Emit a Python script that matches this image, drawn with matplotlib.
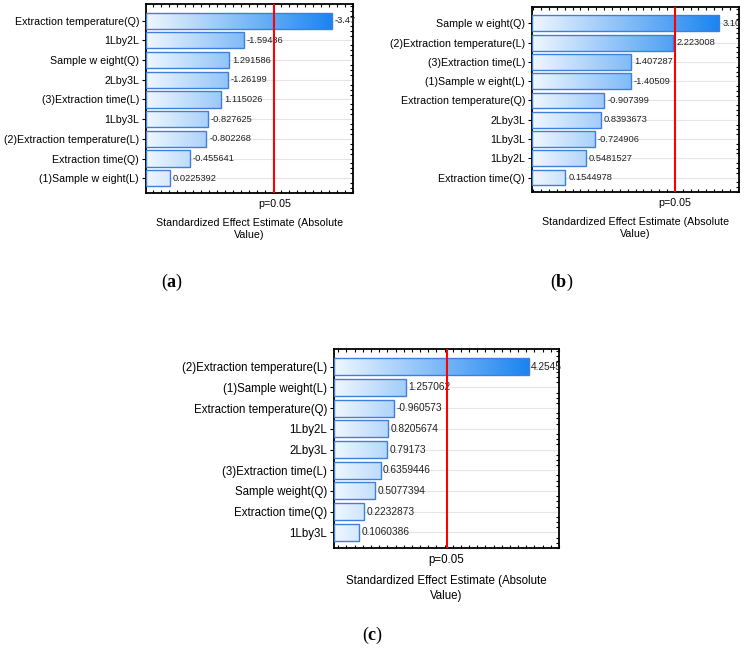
import matplotlib
matplotlib.use("Agg")
import matplotlib.pyplot as plt
import numpy as np
from matplotlib.colors import LinearSegmentedColormap
from matplotlib.patches import Rectangle
from matplotlib.ticker import MultipleLocator
from matplotlib.transforms import Bbox

plt.rcParams["font.family"] = ["Liberation Sans", "DejaVu Sans"]
plt.rcParams["mathtext.fontset"] = "custom"
plt.rcParams["mathtext.rm"] = "Liberation Serif"
plt.rcParams["mathtext.bf"] = "Liberation Serif:bold"

W, H = 748, 655

# effects, top to bottom, as printed next to each bar
terms_a = ["Extraction temperature(Q)", "1Lby2L", "Sample w eight(Q)", "2Lby3L",
           "(3)Extraction time(L)", "1Lby3L", "(2)Extraction temperature(L)",
           "Extraction time(Q)", "(1)Sample w eight(L)"]
effects_a = ["-3.47", "-1.59486", "1.291586", "-1.26199", "1.115026",
             "-0.827625", "-0.802268", "-0.455641", "0.0225392"]

terms_b = ["Sample w eight(Q)", "(2)Extraction temperature(L)", "(3)Extraction time(L)",
           "(1)Sample w eight(L)", "Extraction temperature(Q)", "2Lby3L", "1Lby3L",
           "1Lby2L", "Extraction time(Q)"]
effects_b = ["3.10", "2.223008", "1.407287", "-1.40509", "-0.907399",
             "0.8393673", "-0.724906", "0.5481527", "0.1544978"]

terms_c = ["(2)Extraction temperature(L)", "(1)Sample weight(L)", "Extraction temperature(Q)",
           "1Lby2L", "2Lby3L", "(3)Extraction time(L)", "Sample weight(Q)",
           "Extraction time(Q)", "1Lby3L"]
effects_c = ["4.2545", "1.257062", "-0.960573", "0.8205674", "0.79173",
             "0.6359446", "0.5077394", "0.2232873", "0.1060386"]

p_crit = 2.25

cmap = LinearSegmentedColormap.from_list("bars", ["#f0f7ff", "#1a84f0"])


def pareto(fig, box, terms, effects, xlim, fs, vfs, minor):
    x0, y0, x1, y1 = box
    ax = fig.add_axes([x0 / W, 1 - y1 / H, (x1 - x0) / W, (y1 - y0) / H])
    vals = np.abs(np.array([float(e) for e in effects]))
    n = len(vals)
    ypos = np.arange(n)[::-1]
    left = xlim[0]
    vmax = vals.max()
    clip = Bbox.from_extents(x0, H - y1, x1 + 4, H - y0)

    for y in ypos:
        ax.axhline(y, color="#e4e4e4", lw=0.8, zorder=0)

    grad = np.linspace(0, 1, 256).reshape(1, -1)
    for y, v, lab in zip(ypos, vals, effects):
        rect = Rectangle((left, y - 0.41), v - left, 0.82, facecolor="none",
                         edgecolor="#3f7fdc", lw=1.0, zorder=3)
        ax.add_patch(rect)
        im = ax.imshow(grad, cmap=cmap, aspect="auto", zorder=2,
                       extent=(left, vmax, y - 0.41, y + 0.41))
        im.set_clip_path(rect)
        t = ax.text(v + 0.06, y, lab, fontsize=vfs, va="center", ha="left",
                    color="#222222", zorder=4)
        t.set_clip_box(clip)

    ax.axvline(p_crit, color="#ff0000", lw=1.5, zorder=5)

    ax.set_xlim(*xlim)
    ax.set_ylim(-0.75, n - 0.15)
    ax.set_yticks(ypos)
    ax.set_yticklabels(terms, fontsize=fs)
    ax.set_xticks([p_crit])
    ax.set_xticklabels(["p=0.05"], fontsize=fs)
    ax.xaxis.set_minor_locator(MultipleLocator(minor))
    ax.yaxis.set_minor_locator(MultipleLocator(0.25))
    ax.tick_params(axis="x", which="major", length=0, pad=4)
    ax.tick_params(axis="y", which="major", length=3, width=0.8, pad=2)
    ax.tick_params(which="minor", direction="in", length=2.5, width=0.8,
                   top=True, bottom=True, left=False, right=True)
    for s in ax.spines.values():
        s.set_linewidth(1.3)
    ax.set_xlabel("Standardized Effect Estimate (Absolute\nValue)", fontsize=fs,
                  labelpad=7, linespacing=1.25)
    return ax


fig = plt.figure(figsize=(W / 100, H / 100), dpi=100)

pareto(fig, (146, 4, 353, 193), terms_a, effects_a, (-0.48, 3.92), 7.7, 6.7, 0.17)
pareto(fig, (532, 7, 739, 192), terms_b, effects_b, (-0.475, 3.475), 7.7, 6.7, 0.15)
pareto(fig, (334, 349, 559, 548), terms_c, effects_c, (-0.505, 5.0), 8.3, 7.3, 0.2)

for lab, x, y in [("a", 172, 282), ("b", 562, 282), ("c", 373, 635)]:
    fig.text(x / W, 1 - y / H, "(" + r"$\mathbf{" + lab + "}$" + ")",
             fontsize=13, family="Liberation Serif", ha="center", va="center")

fig.savefig("out.png", dpi=100)
